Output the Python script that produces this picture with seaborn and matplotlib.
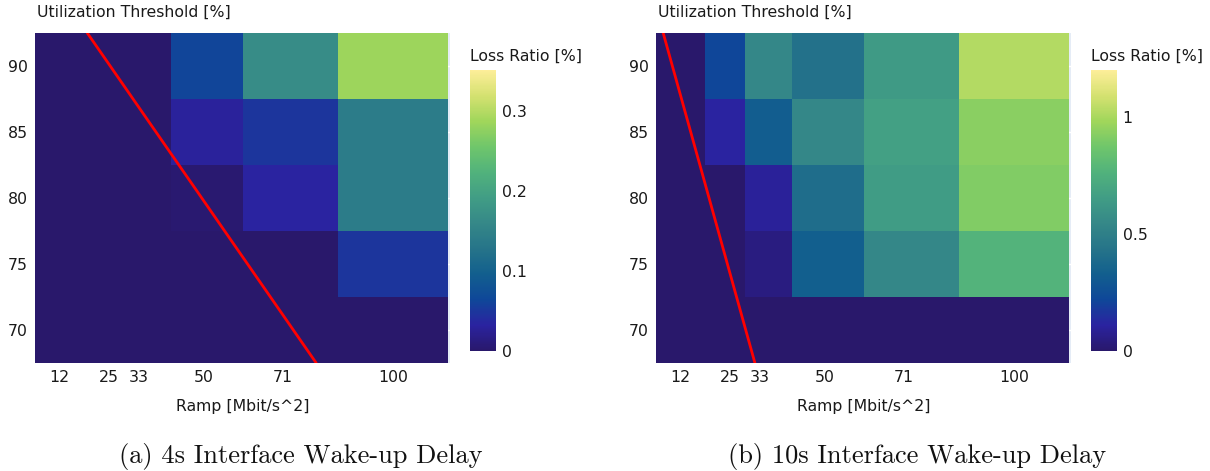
import matplotlib
matplotlib.use("Agg")
import matplotlib.pyplot as plt
from matplotlib.colors import LinearSegmentedColormap
import seaborn as sns
import numpy as np

# ramp values (x) and utilization thresholds (y)
ramps = [12, 25, 33, 50, 71, 100]
thresholds = [70, 75, 80, 85, 90]

# loss ratio [%], one row per threshold (70 -> 90)
loss_4s = [
    [0, 0, 0, 0.000, 0.000, 0.000],
    [0, 0, 0, 0.000, 0.000, 0.049],
    [0, 0, 0, 0.003, 0.032, 0.140],
    [0, 0, 0, 0.030, 0.048, 0.140],
    [0, 0, 0, 0.063, 0.165, 0.285],
]
loss_10s = [
    [0, 0.00, 0.000, 0.00, 0.00, 0.00],
    [0, 0.00, 0.045, 0.33, 0.54, 0.77],
    [0, 0.00, 0.095, 0.40, 0.65, 0.91],
    [0, 0.11, 0.320, 0.54, 0.67, 0.93],
    [0, 0.22, 0.540, 0.42, 0.64, 1.02],
]
zmax_4s = 0.351
zmax_10s = 1.2

# red reference line end points (ramp, threshold)
line_4s_x = [19.3, 79.7]
line_4s_y = [92.5, 67.5]
line_10s_x = [7.4, 31.6]
line_10s_y = [92.5, 67.5]

cbar_ticks_4s = [0, 0.1, 0.2, 0.3]
cbar_ticks_10s = [0, 0.5, 1]

captions = ["(a) 4s Interface Wake-up Delay", "(b) 10s Interface Wake-up Delay"]

haline = ['#29186b', '#2a23a0', '#0f4799', '#125f8e', '#267489', '#358888',
          '#419d85', '#51b27c', '#6fc66b', '#a0d65b', '#d4e170', '#fdee99']
cmap = LinearSegmentedColormap.from_list("haline", haline)

sns.set_theme(style="white")
plt.rcParams['font.family'] = ['DejaVu Sans']

W, H = 1210, 471
fig = plt.figure(figsize=(W / 100, H / 100), dpi=100)
fs = 11.3
tc = '#1a1a1a'


def rect(x0, y0, x1, y1):
    return [x0 / W, 1 - y1 / H, (x1 - x0) / W, (y1 - y0) / H]


panels = [
    (loss_4s, zmax_4s, line_4s_x, line_4s_y, cbar_ticks_4s, 35, 470, 301),
    (loss_10s, zmax_10s, line_10s_x, line_10s_y, cbar_ticks_10s, 656, 1091, 917),
]

for i, (z, zmax, lx, ly, cticks, x0, cx0, capx) in enumerate(panels):
    ax = fig.add_axes(rect(x0, 33, x0 + 415, 363))
    ax.set_facecolor('#e5ecf6')
    ax.set_axisbelow(True)
    ax.grid(True, color='white', linewidth=1)
    mesh = ax.pcolormesh(ramps, thresholds, np.array(z), cmap=cmap,
                         vmin=0, vmax=zmax, shading='nearest', zorder=2)
    ax.plot(lx, ly, color='red', linewidth=2, zorder=3)
    ax.set_xlim(5.5, 115)
    ax.set_ylim(67.5, 92.5)
    ax.set_xticks(ramps)
    ax.set_yticks(thresholds)
    ax.tick_params(length=0, labelsize=fs, colors=tc, pad=5)
    for s in ax.spines.values():
        s.set_visible(False)
    ax.set_xlabel("Ramp [Mbit/s^2]", fontsize=fs, color=tc, labelpad=10)
    fig.text((x0 + 2) / W, 1 - 12 / H, "Utilization Threshold [%]", fontsize=fs,
             color=tc, va='center', ha='left')

    cax = fig.add_axes(rect(cx0, 70, cx0 + 26, 351))
    cb = fig.colorbar(mesh, cax=cax)
    cb.outline.set_visible(False)
    cb.set_ticks(cticks)
    cb.set_ticklabels([f"{t:g}" for t in cticks])
    cax.tick_params(length=0, labelsize=fs, colors=tc, pad=4)
    fig.text(cx0 / W, 1 - 56 / H, "Loss Ratio [%]", fontsize=fs,
             color=tc, va='center', ha='left')

    fig.text(capx / W, 1 - 457 / H, captions[i], family='cmr10',
             fontsize=19, ha='center', va='center', color='#111111')

fig.savefig("out.png", dpi=100)
